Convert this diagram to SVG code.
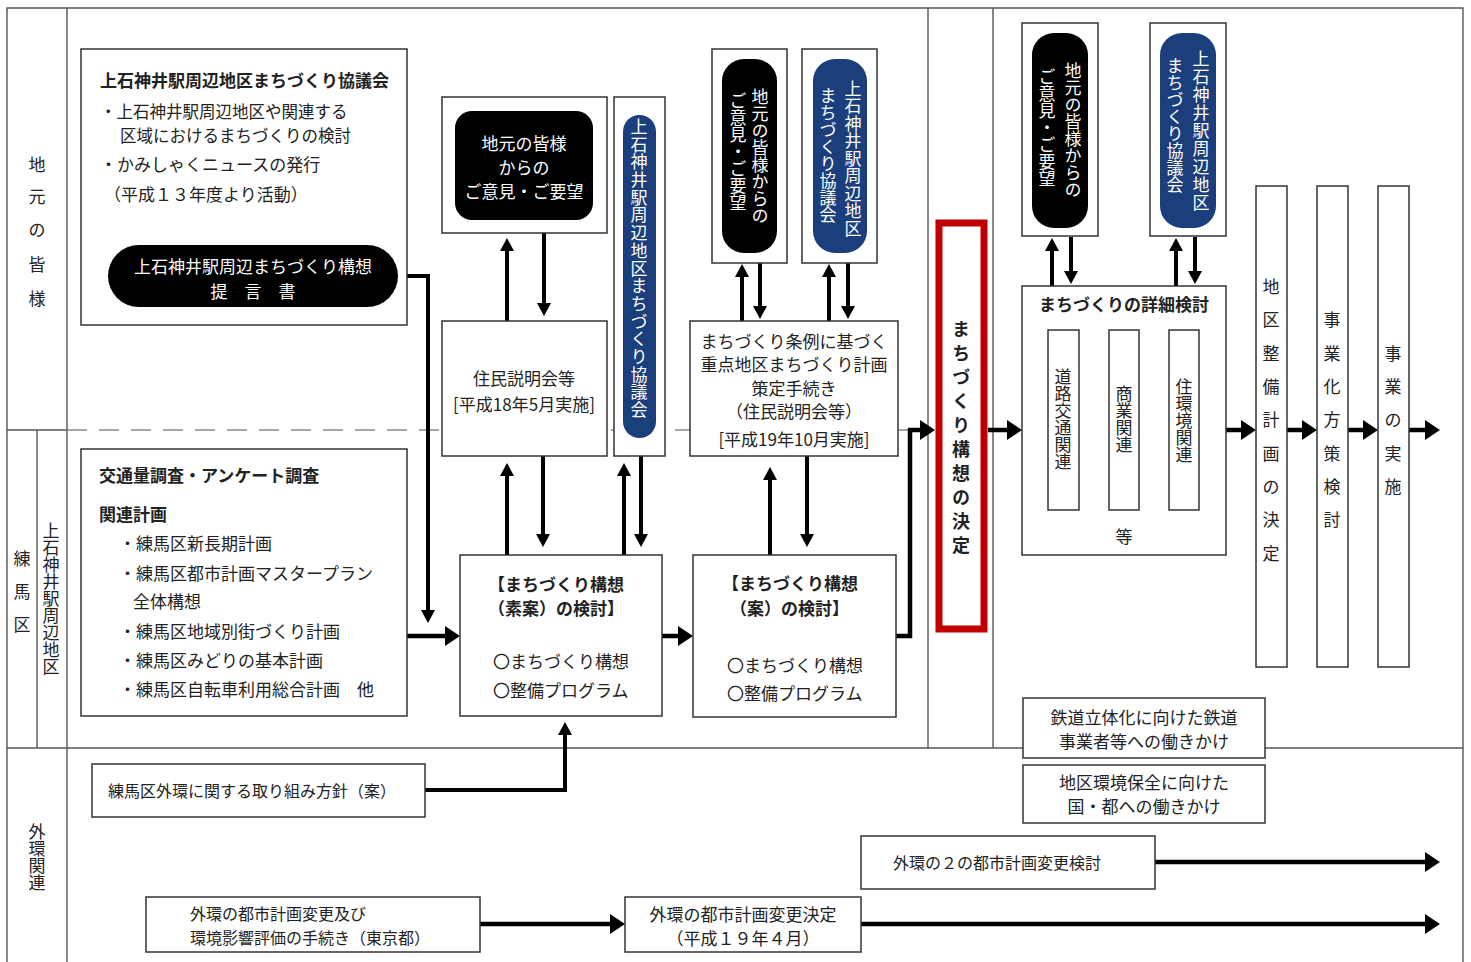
<svg xmlns="http://www.w3.org/2000/svg" width="1471" height="962" viewBox="0 0 1471 962">
<style>
.t{font-family:"Noto Sans CJK JP","Noto Sans CJK SC",sans-serif;font-size:17px;fill:#222;dominant-baseline:central}
.s16{font-size:16px}
.b{font-weight:bold}
.w{fill:#fff}
.m{text-anchor:middle}
.v{writing-mode:vertical-rl}
.box{fill:#fff;stroke:#333;stroke-width:1.5}
.blk{fill:#000}
.blu{fill:#1b3f7d}
.fr{stroke:#555;stroke-width:1.4;fill:none}
.dash{stroke:#888;stroke-width:1.4;stroke-dasharray:20 12;fill:none}
.a{stroke:#000;stroke-width:4.5;fill:none;marker-end:url(#ah)}
.as{stroke:#000;stroke-width:4;fill:none;marker-end:url(#as)}
</style>
<defs>
<marker id="ah" markerUnits="userSpaceOnUse" markerWidth="15" markerHeight="20" refX="0" refY="10" orient="auto"><path d="M0,0 L15,10 L0,20 z" fill="#000"/></marker>
<marker id="as" markerUnits="userSpaceOnUse" markerWidth="13" markerHeight="14" refX="0" refY="7" orient="auto"><path d="M0,0 L13,7 L0,14 z" fill="#000"/></marker>
</defs>
<rect width="1471" height="962" fill="#fff"/>
<g id="frame">
<path class="fr" d="M7,962 V8 H1463 V962"/>
<path class="fr" d="M67,8 V962 M7,430 H67 M37,430 V748 M7,748 H1463 M928,8 V748 M993,8 V748"/>
<path class="dash" d="M67,430 H928"/>
<text class="t"><tspan x="37" y="163" class="m">地</tspan><tspan x="37" y="195" class="m">元</tspan><tspan x="37" y="228" class="m">の</tspan><tspan x="37" y="263" class="m">皆</tspan><tspan x="37" y="297" class="m">様</tspan></text>
<text class="t"><tspan x="22" y="557" class="m">練</tspan><tspan x="22" y="590" class="m">馬</tspan><tspan x="22" y="623" class="m">区</tspan></text>
<text class="t v" x="51" y="522">上石神井駅周辺地区</text>
<text class="t v" x="37" y="823">外環関連</text>
</g>
<g id="connectors">
<path class="as" d="M507,321 V251"/>
<path class="as" d="M544,233 V303"/>
<path class="as" d="M742,321 V277"/>
<path class="as" d="M760,263 V306"/>
<path class="as" d="M829,321 V277"/>
<path class="as" d="M848,263 V306"/>
<path class="as" d="M507,555 V476"/>
<path class="as" d="M543,456 V534"/>
<path class="as" d="M624,555 V476"/>
<path class="as" d="M641,456 V534"/>
<path class="as" d="M770,555 V480"/>
<path class="as" d="M807,456 V534"/>
<path class="as" d="M1052,286 V251"/>
<path class="as" d="M1071,237 V271"/>
<path class="as" d="M1176,286 V251"/>
<path class="as" d="M1195,237 V271"/>
<path class="as" d="M425,790 H565 V735"/>
<path class="as" d="M398,276 H428 V610"/>
<path class="a" d="M407,636 H445"/>
<path class="a" d="M662,636 H678"/>
<path class="a" d="M896,636 H910 V430 H920"/>
<path class="a" d="M988,430 H1007"/>
<path class="a" d="M1226,430 H1241"/>
<path class="a" d="M1287,430 H1302"/>
<path class="a" d="M1348,430 H1363"/>
<path class="a" d="M1409,430 H1425"/>
<path class="a" d="M480,924 H610"/>
<path class="a" d="M861,924 H1425"/>
<path class="a" d="M1155,862 H1425"/>
</g>
<g id="kyogikai">
<rect class="box" x="81" y="49" width="326" height="276"/>
<text class="t b" x="100" y="79">上石神井駅周辺地区まちづくり協議会</text>
<text class="t" x="100" y="111" style="font-size:16.5px">・上石神井駅周辺地区や関連する</text>
<text class="t" x="120" y="135" style="font-size:16.5px">区域におけるまちづくりの検討</text>
<text class="t" x="100" y="163">・かみしゃくニュースの発行</text>
<text class="t" x="104" y="193">（平成１３年度より活動）</text>
</g>
<g id="teigensho">
<rect class="blk" x="108" y="245" width="290" height="62" rx="31"/>
<text class="t w m" x="253" y="265">上石神井駅周辺まちづくり構想</text>
<text class="t w m" x="253" y="290">提　言　書</text>
</g>
<g id="chosa">
<rect class="box" x="81" y="449" width="326" height="267"/>
<text class="t b" x="99" y="474">交通量調査・アンケート調査</text>
<text class="t b" x="99" y="513">関連計画</text>
<text class="t" x="119" y="542">・練馬区新長期計画</text>
<text class="t" x="119" y="572">・練馬区都市計画マスタープラン</text>
<text class="t" x="133" y="600">全体構想</text>
<text class="t" x="119" y="630">・練馬区地域別街づくり計画</text>
<text class="t" x="119" y="659">・練馬区みどりの基本計画</text>
<text class="t" x="119" y="688">・練馬区自転車利用総合計画　他</text>
</g>
<g id="iken1">
<rect class="box" x="442" y="97" width="165" height="136"/>
<rect class="blk" x="455" y="111" width="138" height="109" rx="17"/>
<text class="t w m" x="524" y="142">地元の皆様</text>
<text class="t w m" x="524" y="166">からの</text>
<text class="t w m" x="524" y="190">ご意見・ご要望</text>
</g>
<g id="setsumei1">
<rect class="box" x="442" y="321" width="165" height="135"/>
<text class="t m" x="524" y="377">住民説明会等</text>
<text class="t m" x="524" y="403">[平成18年5月実施]</text>
</g>
<g id="kyogikai1">
<rect class="box" x="614" y="97" width="51" height="359"/>
<rect class="blu" x="623" y="115" width="33" height="323" rx="16.5"/>
<text class="t w v" x="639" y="118" style="letter-spacing:0.7px">上石神井駅周辺地区まちづくり協議会</text>
</g>
<g id="iken2">
<rect class="box" x="712" y="49" width="75" height="214"/>
<rect class="blk" x="722" y="59" width="55" height="194" rx="22"/>
<text class="t w v" x="760" y="88">地元の皆様からの</text>
<text class="t w v" x="738" y="92">ご意見・ご要望</text>
</g>
<g id="kyogikai2">
<rect class="box" x="802" y="49" width="75" height="214"/>
<rect class="blu" x="813" y="59" width="54" height="194" rx="22"/>
<text class="t w v" x="853" y="80" style="letter-spacing:0.5px">上石神井駅周辺地区</text>
<text class="t w v" x="828" y="87">まちづくり協議会</text>
</g>
<g id="jorei">
<rect class="box" x="690" y="321" width="208" height="135"/>
<text class="t m" x="794" y="340">まちづくり条例に基づく</text>
<text class="t m" x="794" y="363">重点地区まちづくり計画</text>
<text class="t m" x="794" y="387">策定手続き</text>
<text class="t m" x="794" y="410">（住民説明会等）</text>
<text class="t m" x="794" y="438">[平成19年10月実施]</text>
</g>
<g id="soan">
<rect class="box" x="460" y="555" width="202" height="161"/>
<text class="t b" x="488" y="583">【まちづくり構想</text>
<text class="t b" x="488" y="607">（素案）の検討】</text>
<text class="t" x="493" y="660">〇まちづくり構想</text>
<text class="t" x="493" y="689">〇整備プログラム</text>
</g>
<g id="an">
<rect class="box" x="693" y="555" width="203" height="162"/>
<text class="t b" x="722" y="582">【まちづくり構想</text>
<text class="t b" x="730" y="607">（案）の検討】</text>
<text class="t" x="727" y="664">〇まちづくり構想</text>
<text class="t" x="727" y="692">〇整備プログラム</text>
</g>
<g id="kettei">
<rect x="939" y="223" width="45" height="406" fill="#fff" stroke="#c00000" stroke-width="7"/>
<text class="t b v" x="961" y="320" style="font-size:18px;letter-spacing:6px">まちづくり構想の決定</text>
</g>
<g id="iken3">
<rect class="box" x="1022" y="23" width="76" height="213"/>
<rect class="blk" x="1032" y="33" width="56" height="195" rx="22"/>
<text class="t w v" x="1073" y="62">地元の皆様からの</text>
<text class="t w v" x="1047" y="68">ご意見・ご要望</text>
</g>
<g id="kyogikai3">
<rect class="box" x="1150" y="23" width="76" height="213"/>
<rect class="blu" x="1160" y="33" width="56" height="195" rx="22"/>
<text class="t w v" x="1201" y="50" style="letter-spacing:1px">上石神井駅周辺地区</text>
<text class="t w v" x="1175" y="57">まちづくり協議会</text>
</g>
<g id="shosai">
<rect class="box" x="1022" y="286" width="204" height="269"/>
<text class="t b m" x="1124" y="303">まちづくりの詳細検討</text>
<rect class="box" x="1048" y="330" width="31" height="180"/>
<rect class="box" x="1109" y="330" width="30" height="180"/>
<rect class="box" x="1169" y="330" width="30" height="180"/>
<text class="t v" x="1063" y="368">道路交通関連</text>
<text class="t v" x="1124" y="385">商業関連</text>
<text class="t v" x="1184" y="378">住環境関連</text>
<text class="t m" x="1124" y="535">等</text>
</g>
<g id="chikuseibi">
<rect class="box" x="1256" y="186" width="31" height="481"/>
<text class="t m"><tspan x="1271" y="285">地</tspan><tspan x="1271" y="318">区</tspan><tspan x="1271" y="352">整</tspan><tspan x="1271" y="385">備</tspan><tspan x="1271" y="418">計</tspan><tspan x="1271" y="452">画</tspan><tspan x="1271" y="485">の</tspan><tspan x="1271" y="518">決</tspan><tspan x="1271" y="552">定</tspan></text>
</g>
<g id="jigyoka">
<rect class="box" x="1317" y="186" width="31" height="481"/>
<text class="t m"><tspan x="1332" y="318">事</tspan><tspan x="1332" y="352">業</tspan><tspan x="1332" y="385">化</tspan><tspan x="1332" y="418">方</tspan><tspan x="1332" y="452">策</tspan><tspan x="1332" y="485">検</tspan><tspan x="1332" y="518">討</tspan></text>
</g>
<g id="jisshi">
<rect class="box" x="1378" y="186" width="31" height="481"/>
<text class="t m"><tspan x="1393" y="352">事</tspan><tspan x="1393" y="385">業</tspan><tspan x="1393" y="418">の</tspan><tspan x="1393" y="452">実</tspan><tspan x="1393" y="485">施</tspan></text>
</g>
<g id="tetsudo">
<rect class="box" x="1023" y="698" width="242" height="60"/>
<text class="t m" x="1144" y="716">鉄道立体化に向けた鉄道</text>
<text class="t m" x="1144" y="740">事業者等への働きかけ</text>
</g>
<g id="kankyo">
<rect class="box" x="1023" y="765" width="242" height="58"/>
<text class="t m" x="1144" y="781">地区環境保全に向けた</text>
<text class="t m" x="1144" y="805">国・都への働きかけ</text>
</g>
<g id="hoshin">
<rect class="box" x="92" y="764" width="333" height="53"/>
<text class="t s16" x="108" y="790">練馬区外環に関する取り組み方針（案）</text>
</g>
<g id="gaikan2">
<rect class="box" x="861" y="836" width="294" height="53"/>
<text class="t s16" x="893" y="862">外環の２の都市計画変更検討</text>
</g>
<g id="tetsuzuki">
<rect class="box" x="146" y="897" width="334" height="55"/>
<text class="t s16" x="190" y="913">外環の都市計画変更及び</text>
<text class="t s16" x="190" y="937">環境影響評価の手続き（東京都）</text>
</g>
<g id="henkokettei">
<rect class="box" x="625" y="897" width="236" height="55"/>
<text class="t m" x="743" y="913">外環の都市計画変更決定</text>
<text class="t m" x="743" y="937">（平成１９年４月）</text>
</g>
</svg>
